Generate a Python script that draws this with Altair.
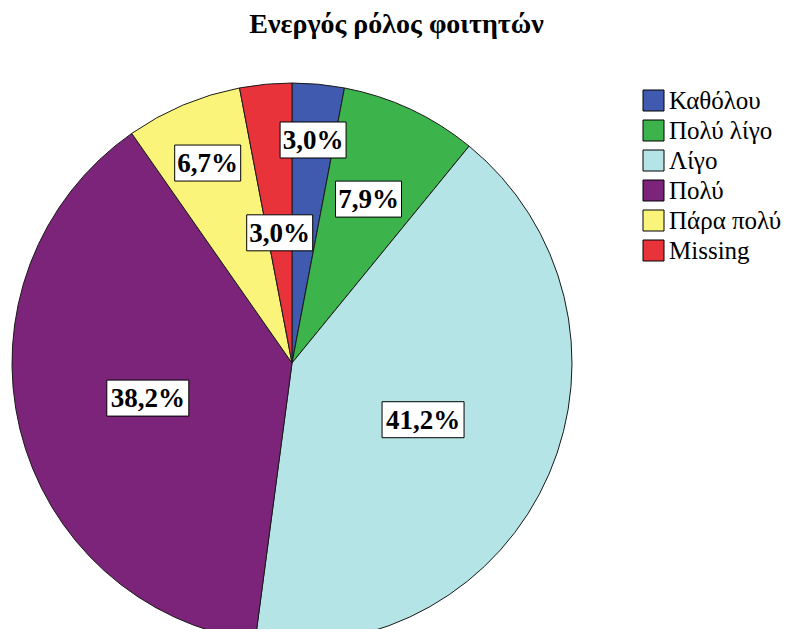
import altair as alt
import pandas as pd

# ---- data ----
categories = ["Καθόλου", "Πολύ λίγο", "Λίγο", "Πολύ", "Πάρα πολύ", "Missing"]
percents = [3.0, 7.9, 41.2, 38.2, 6.7, 3.0]
labels = ["3,0%", "7,9%", "41,2%", "38,2%", "6,7%", "3,0%"]
colors = ["#3F5AAE", "#3CB44B", "#B4E4E6", "#7B2479", "#FBF47B", "#E8333B"]

# label placement (fraction of pie radius, along each slice's mid angle)
label_r = [0.80, 0.646, 0.51, 0.53, 0.775, 0.467]

df = pd.DataFrame({
    "cat": categories,
    "pct": percents,
    "label": labels,
    "idx": list(range(len(categories))),
    "lr": label_r,
})

# ---- layout ----
W, H = 777, 571
PAD_TOP = 50
CX, CY, R = 284, 305, 280
xs = alt.Scale(domain=[-CX / R, (W - CX) / R], nice=False, zero=False)
ys = alt.Scale(domain=[-(H - CY) / R, CY / R], nice=False, zero=False)

SERIF = "Liberation Serif"

arc = alt.Chart(df).mark_arc(outerRadius=R, stroke="#1a1a1a", strokeWidth=1).encode(
    theta=alt.Theta("pct:Q", stack=True),
    order=alt.Order("idx:Q"),
    color=alt.Color(
        "cat:N",
        sort=categories,
        scale=alt.Scale(domain=categories, range=colors),
        legend=alt.Legend(
            title=None, orient="none", legendX=633, legendY=30,
            symbolType="square", symbolSize=441,
            symbolStrokeColor="#000000", symbolStrokeWidth=1,
            labelFont=SERIF, labelFontSize=25, labelColor="#000000",
            rowPadding=4, labelOffset=3, padding=0, labelLimit=300,
        ),
    ),
    x=alt.XDatum(0, type="quantitative", scale=xs, axis=None),
    y=alt.YDatum(0, type="quantitative", scale=ys, axis=None),
)

lab = alt.Chart(df).transform_joinaggregate(
    total="sum(pct)"
).transform_window(
    cum="sum(pct)", sort=[alt.SortField("idx")], frame=[None, 0]
).transform_calculate(
    ang="2*PI*(datum.cum - datum.pct/2)/datum.total",
    lx="datum.lr*sin(datum.ang)",
    ly="datum.lr*cos(datum.ang)",
    hw=f"(8*length(datum.label)+1)/{R}",
    hh=f"18/{R}",
    x1="datum.lx - datum.hw",
    x2="datum.lx + datum.hw",
    y1="datum.ly - datum.hh",
    y2="datum.ly + datum.hh",
)

box = lab.mark_rect(fill="white", stroke="#000000", strokeWidth=1).encode(
    x=alt.X("x1:Q", scale=xs, axis=None),
    x2="x2:Q",
    y=alt.Y("y1:Q", scale=ys, axis=None),
    y2="y2:Q",
)

txt = lab.mark_text(
    font=SERIF, fontWeight="bold", fontSize=27, color="#000000",
    align="center", baseline="middle", dy=1,
).encode(
    x=alt.X("lx:Q", scale=xs, axis=None),
    y=alt.Y("ly:Q", scale=ys, axis=None),
    text="label:N",
)

chart = alt.layer(arc, box, txt).properties(
    width=W,
    height=H,
    padding={"left": 0, "top": PAD_TOP, "right": 0, "bottom": 0},
    autosize=alt.AutoSizeParams(type="none"),
    title=alt.TitleParams(
        "Ενεργός ρόλος φοιτητών",
        font=SERIF, fontSize=28, fontWeight="bold", color="#000000",
        anchor="middle", baseline="alphabetic", offset=20, dy=23,
    ),
).configure_view(
    stroke=None
).configure_legend(
    labelFont=SERIF, labelFontSize=25, labelColor="#000000"
)

chart.save("out.html", embed_options={"renderer": "svg", "actions": False})
